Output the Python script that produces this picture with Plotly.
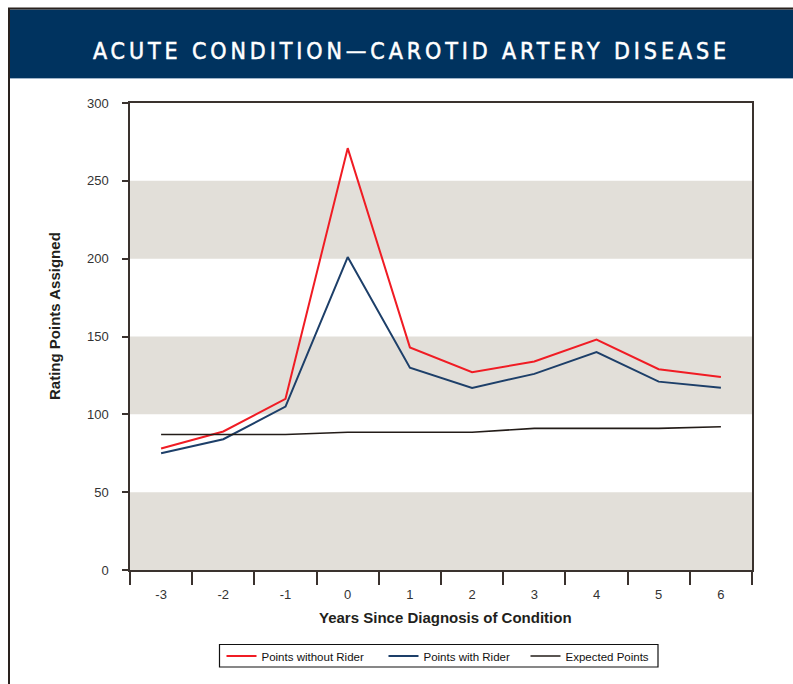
import plotly.graph_objects as go

years = ["-3", "-2", "-1", "0", "1", "2", "3", "4", "5", "6"]
without_rider = [78, 89, 110, 271, 143, 127, 134, 148, 129, 124]
with_rider = [75, 84, 105, 201, 130, 117, 126, 140, 121, 117]
expected = [87, 87, 87, 88.5, 88.5, 88.5, 91, 91, 91, 92]
y_ticks = [0, 50, 100, 150, 200, 250, 300]
bands = [(0, 50), (100, 150), (200, 250)]

W, H = 793, 684
L, R, T, B = 130, 752, 103, 570


def px_x(p):
    return (p - L) / (R - L)


def px_y(p):
    return (B - p) / (B - T)


fig = go.Figure()
fig.add_trace(go.Scatter(x=years, y=without_rider, mode="lines", name="Points without Rider",
                         line=dict(color="#f01c24", width=2), legend="legend"))
fig.add_trace(go.Scatter(x=years, y=with_rider, mode="lines", name="Points with Rider",
                         line=dict(color="#1d3f69", width=2), legend="legend2"))
fig.add_trace(go.Scatter(x=years, y=expected, mode="lines", name="Expected Points",
                         line=dict(color="#231c18", width=1.6), legend="legend3"))

shapes = []
for lo, hi in bands:
    shapes.append(dict(type="rect", xref="paper", yref="y", x0=0, x1=px_x(754), y0=lo, y1=hi,
                       fillcolor="#e2dfd9", line=dict(width=0), layer="below"))
# banner
shapes.append(dict(type="rect", xref="paper", yref="paper", x0=px_x(10), x1=px_x(800),
                   y0=px_y(78), y1=px_y(9.5), fillcolor="#00335f", line=dict(width=0)))
shapes.append(dict(type="line", xref="paper", yref="paper", x0=px_x(10), x1=px_x(800),
                   y0=px_y(78.5), y1=px_y(78.5), line=dict(color="#9fb4c8", width=1)))
# outer frame
shapes.append(dict(type="line", xref="paper", yref="paper", x0=px_x(8), x1=px_x(800),
                   y0=px_y(8.5), y1=px_y(8.5), line=dict(color="#2a221e", width=2)))
shapes.append(dict(type="line", xref="paper", yref="paper", x0=px_x(9), x1=px_x(9),
                   y0=px_y(8), y1=px_y(700), line=dict(color="#2a221e", width=2)))
# legend box
shapes.append(dict(type="rect", xref="paper", yref="paper", x0=px_x(219.5), x1=px_x(658),
                   y0=px_y(667), y1=px_y(644.5), line=dict(color="#111111", width=1.2),
                   fillcolor="rgba(0,0,0,0)"))

annotations = [
    dict(text="ACUTE CONDITION\u2014CAROTID ARTERY DISEASE", xref="paper", yref="paper",
         x=px_x(411), y=px_y(50.5), showarrow=False, xanchor="center", yanchor="middle",
         font=dict(family="DejaVu Sans Condensed, Liberation Sans", size=23, color="white")),
    dict(text="<b>Rating Points Assigned</b>", xref="paper", yref="paper", x=px_x(54),
         y=px_y(316), showarrow=False, textangle=-90, xanchor="center", yanchor="middle",
         font=dict(family="Liberation Sans, Arial", size=15, color="#231f1c")),
    dict(text="<b>Years Since Diagnosis of Condition</b>", xref="paper", yref="paper",
         x=px_x(445), y=px_y(617), showarrow=False, xanchor="center", yanchor="middle",
         font=dict(family="Liberation Sans, Arial", size=15, color="#231f1c")),
]

leg_common = dict(orientation="h", xanchor="left", yanchor="middle", y=px_y(656),
                  borderwidth=0, bgcolor="rgba(0,0,0,0)",
                  font=dict(family="Liberation Sans, Arial", size=11.5, color="#111111"),
                  itemwidth=30)

fig.update_layout(
    width=W, height=H,
    margin=dict(l=L, r=W - R, t=T, b=H - B),
    paper_bgcolor="white", plot_bgcolor="white",
    shapes=shapes, annotations=annotations,
    font=dict(family="Liberation Sans, Arial", size=13, color="#333333"),
    showlegend=True,
    legend=dict(x=px_x(221.5), **leg_common),
    legend2=dict(x=px_x(383.5), **leg_common),
    legend3=dict(x=px_x(525.5), **leg_common),
    xaxis=dict(type="category", range=[-0.5, 9.5], showgrid=False, zeroline=False,
               showline=True, linecolor="#3a322e", linewidth=1.5, mirror=True,
               ticks="outside", ticklen=13, tickcolor="#3a322e", tickwidth=1.5,
               tickson="boundaries", ticklabelstandoff=12,
               tickfont=dict(size=13, color="#333333")),
    yaxis=dict(range=[0, 300], tickvals=y_ticks, showgrid=False, zeroline=False,
               showline=True, linecolor="#3a322e", linewidth=1.5, mirror=True,
               ticks="outside", ticklen=6, tickcolor="#3a322e", tickwidth=1.5,
               ticklabelstandoff=11, tickfont=dict(size=13, color="#333333")),
)

post = """
document.body.style.margin = '0';
document.querySelectorAll('.annotation-text').forEach(function (t) {
  if (t.textContent.indexOf('ACUTE') === 0) {
    t.style.letterSpacing = '3.9px';
    t.style.stroke = 'white';
    t.style.strokeWidth = '0.5px';
  }
});
"""

fig.write_html("out.html", post_script=post, config={"displayModeBar": False})
